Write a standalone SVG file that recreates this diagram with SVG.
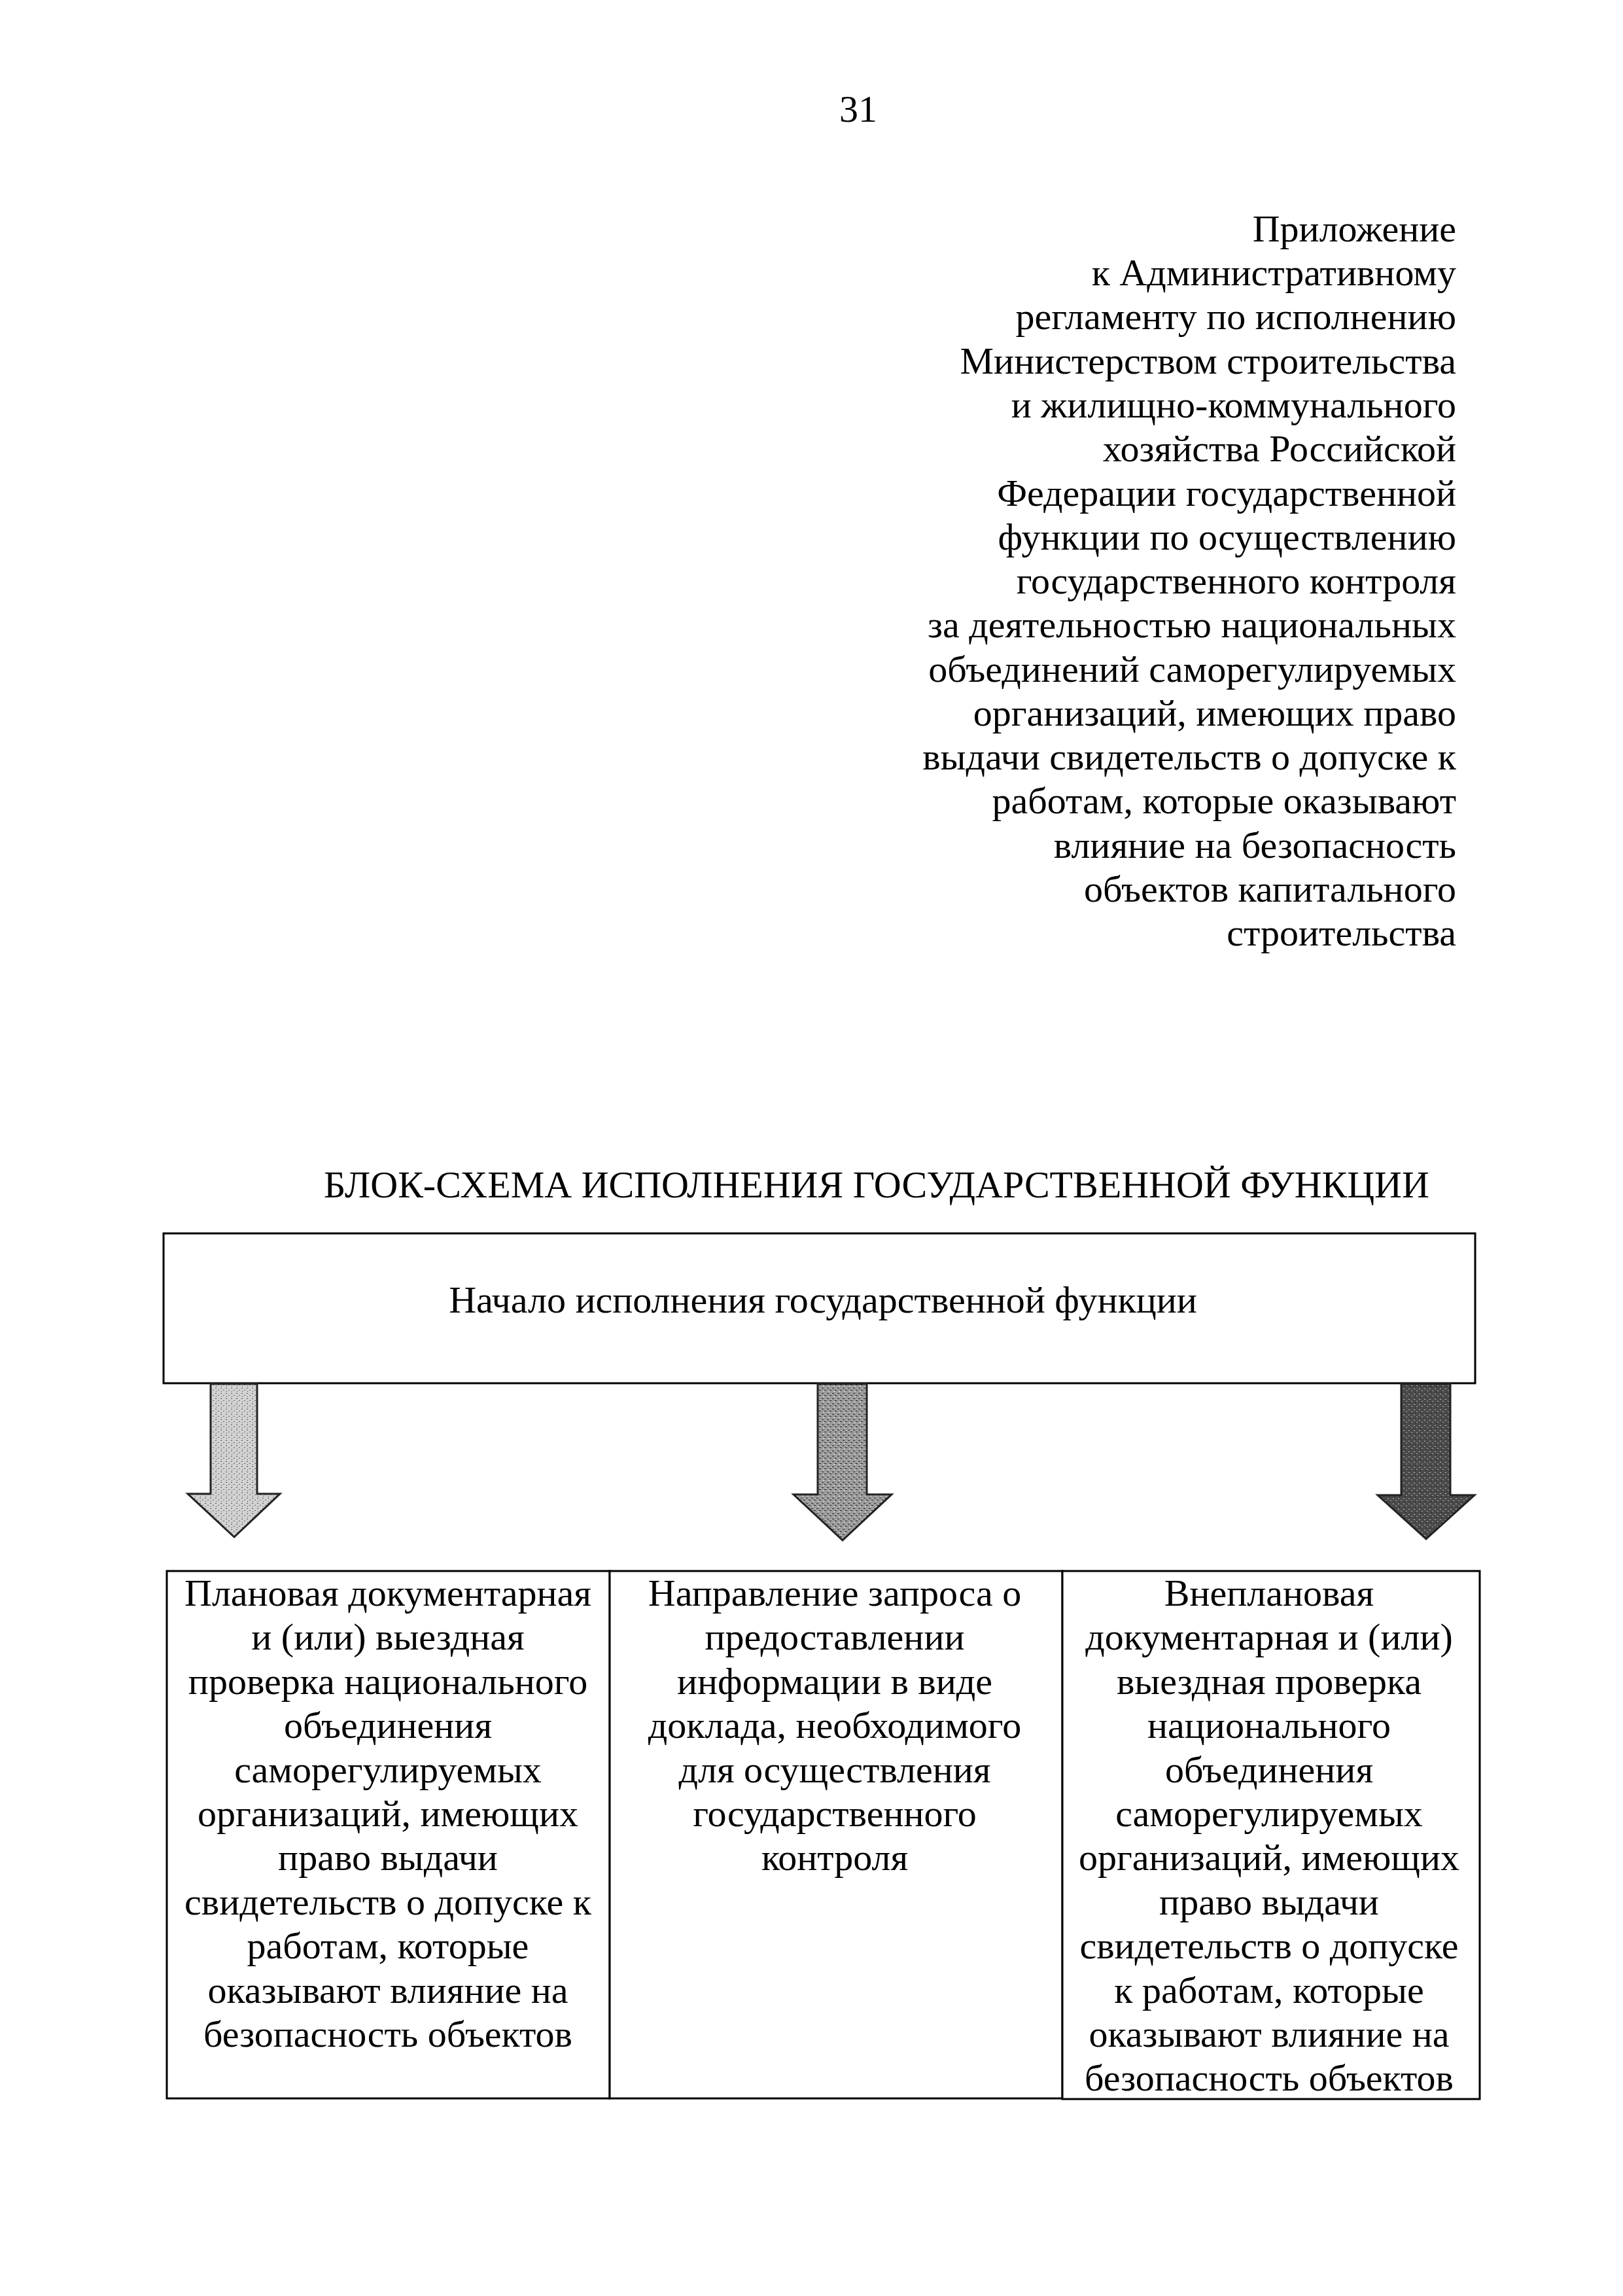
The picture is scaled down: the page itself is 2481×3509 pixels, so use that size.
<svg xmlns="http://www.w3.org/2000/svg" width="2481" height="3509" viewBox="0 0 2481 3509">
  <defs>
    <style>
      .t { font-family: "Liberation Serif", "Times New Roman", serif; font-size: 58px; fill: #000; }
      .r { text-anchor: end; }
      .c { text-anchor: middle; }
      .box { fill: #fff; stroke: #000; stroke-width: 3; }
      .arrow { stroke: #222; stroke-width: 3; stroke-linejoin: miter; }
    </style>
    <pattern id="p1" width="8" height="8" patternUnits="userSpaceOnUse">
      <rect width="8" height="8" fill="#d2d2d2"/>
      <rect x="1" y="1" width="2" height="1" fill="#555"/>
      <rect x="5" y="4" width="2" height="1" fill="#666"/>
      <rect x="2" y="6" width="1" height="1" fill="#444"/>
    </pattern>
    <pattern id="p2" width="8" height="8" patternUnits="userSpaceOnUse">
      <rect width="8" height="8" fill="#9a9a9a"/>
      <rect x="0" y="1" width="3" height="1" fill="#333"/>
      <rect x="4" y="4" width="3" height="1" fill="#2a2a2a"/>
      <rect x="2" y="6" width="2" height="1" fill="#eee"/>
      <rect x="6" y="2" width="1" height="1" fill="#eee"/>
    </pattern>
    <pattern id="p3" width="8" height="8" patternUnits="userSpaceOnUse">
      <rect width="8" height="8" fill="#4a4a4a"/>
      <rect x="1" y="2" width="2" height="1" fill="#bbb"/>
      <rect x="5" y="5" width="2" height="1" fill="#aaa"/>
      <rect x="3" y="7" width="1" height="1" fill="#111"/>
    </pattern>
  </defs>
  <rect width="2481" height="3509" fill="#fff"/>

  <text class="t c" x="1312" y="186" font-size="50">31</text>

  <g id="header">
    <text class="t r" x="2226" y="369">Приложение</text>
    <text class="t r" x="2226" y="436">к Административному</text>
    <text class="t r" x="2226" y="503">регламенту по исполнению</text>
    <text class="t r" x="2226" y="571">Министерством строительства</text>
    <text class="t r" x="2226" y="638">и жилищно-коммунального</text>
    <text class="t r" x="2226" y="705">хозяйства Российской</text>
    <text class="t r" x="2226" y="773">Федерации государственной</text>
    <text class="t r" x="2226" y="840">функции по осуществлению</text>
    <text class="t r" x="2226" y="907">государственного контроля</text>
    <text class="t r" x="2226" y="974">за деятельностью национальных</text>
    <text class="t r" x="2226" y="1042">объединений саморегулируемых</text>
    <text class="t r" x="2226" y="1109">организаций, имеющих право</text>
    <text class="t r" x="2226" y="1176">выдачи свидетельств о допуске к</text>
    <text class="t r" x="2226" y="1243">работам, которые оказывают</text>
    <text class="t r" x="2226" y="1311">влияние на безопасность</text>
    <text class="t r" x="2226" y="1378">объектов капитального</text>
    <text class="t r" x="2226" y="1445">строительства</text>
  </g>

  <text id="title" class="t c" x="1340" y="1830">БЛОК-СХЕМА ИСПОЛНЕНИЯ ГОСУДАРСТВЕННОЙ ФУНКЦИИ</text>

  <g id="start">
    <rect class="box" x="250" y="1885" width="2005" height="229"/>
    <text class="t c" x="1258" y="2006">Начало исполнения государственной функции</text>
  </g>

  <g id="connectors">
    <path class="arrow" fill="url(#p1)" d="M322,2115 L393,2115 L393,2283 L428,2283 L358,2349 L287,2283 L322,2283 Z"/>
    <path class="arrow" fill="url(#p2)" d="M1250,2115 L1325,2115 L1325,2284 L1363,2284 L1288,2354 L1213,2284 L1250,2284 Z"/>
    <path class="arrow" fill="url(#p3)" d="M2142,2115 L2217,2115 L2217,2285 L2254,2285 L2180,2352 L2106,2285 L2142,2285 Z"/>
  </g>

  <g id="box1">
    <rect class="box" x="255" y="2401" width="677" height="806"/>
    <text class="t c" x="593" y="2454">Плановая документарная</text>
    <text class="t c" x="593" y="2521">и (или) выездная</text>
    <text class="t c" x="593" y="2589">проверка национального</text>
    <text class="t c" x="593" y="2656">объединения</text>
    <text class="t c" x="593" y="2724">саморегулируемых</text>
    <text class="t c" x="593" y="2791">организаций, имеющих</text>
    <text class="t c" x="593" y="2858">право выдачи</text>
    <text class="t c" x="593" y="2926">свидетельств о допуске к</text>
    <text class="t c" x="593" y="2993">работам, которые</text>
    <text class="t c" x="593" y="3061">оказывают влияние на</text>
    <text class="t c" x="593" y="3128">безопасность объектов</text>
  </g>

  <g id="box2">
    <rect class="box" x="932" y="2401" width="692" height="806"/>
    <text class="t c" x="1276" y="2454">Направление запроса о</text>
    <text class="t c" x="1276" y="2521">предоставлении</text>
    <text class="t c" x="1276" y="2589">информации в виде</text>
    <text class="t c" x="1276" y="2656">доклада, необходимого</text>
    <text class="t c" x="1276" y="2724">для осуществления</text>
    <text class="t c" x="1276" y="2791">государственного</text>
    <text class="t c" x="1276" y="2858">контроля</text>
  </g>

  <g id="box3">
    <rect class="box" x="1624" y="2401" width="638" height="807"/>
    <text class="t c" x="1940" y="2454">Внеплановая</text>
    <text class="t c" x="1940" y="2521">документарная и (или)</text>
    <text class="t c" x="1940" y="2589">выездная проверка</text>
    <text class="t c" x="1940" y="2656">национального</text>
    <text class="t c" x="1940" y="2724">объединения</text>
    <text class="t c" x="1940" y="2791">саморегулируемых</text>
    <text class="t c" x="1940" y="2858">организаций, имеющих</text>
    <text class="t c" x="1940" y="2926">право выдачи</text>
    <text class="t c" x="1940" y="2993">свидетельств о допуске</text>
    <text class="t c" x="1940" y="3061">к работам, которые</text>
    <text class="t c" x="1940" y="3128">оказывают влияние на</text>
    <text class="t c" x="1940" y="3195">безопасность объектов</text>
  </g>
</svg>
